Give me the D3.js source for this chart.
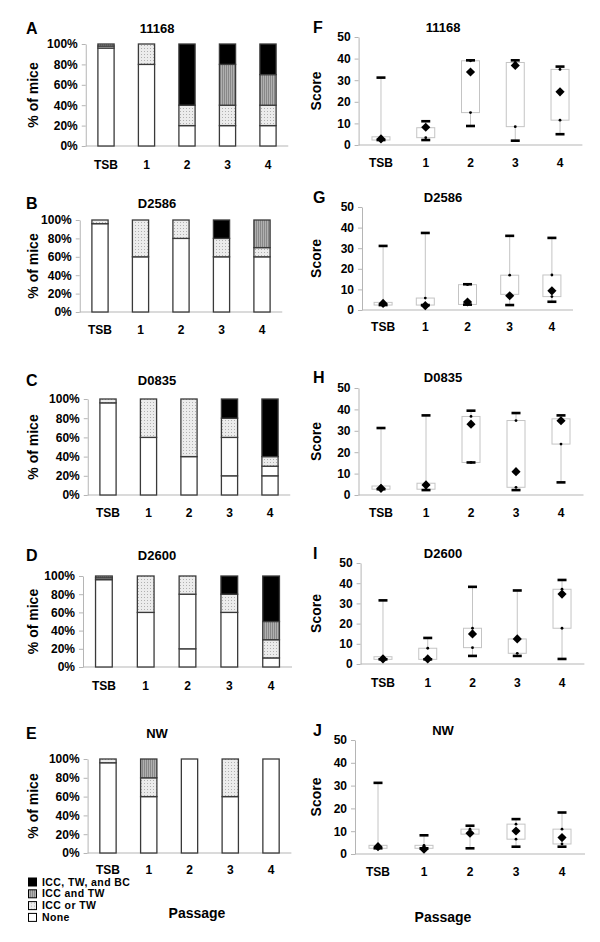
<!DOCTYPE html>
<html>
<head>
<meta charset="utf-8">
<script src="https://cdn.jsdelivr.net/npm/d3@7"></script>
<style>
  body { margin: 0; background: #fff; }
  text { font-family: "Liberation Sans", Arial, sans-serif; font-weight: bold; fill: #000; }
</style>
</head>
<body>
<div class="canvas"></div>
<script>
// categories on the x axis
const categories = ['TSB', '1', '2', '3', '4'];

// stack order, bottom to top (second white band has no legend entry)
const stackKeys = ['None', 'None b', 'ICC or TW', 'ICC and TW', 'ICC, TW, and BC'];
const legendKeys = ['ICC, TW, and BC', 'ICC and TW', 'ICC or TW', 'None'];

// % of mice, one row per passage, columns follow stackKeys
const pct11168 = [[96, 0, 2, 2, 0], [80, 0, 20, 0, 0], [20, 0, 20, 0, 60], [20, 0, 20, 40, 20], [20, 0, 20, 30, 30]];
const pctD2586 = [[96, 0, 4, 0, 0], [60, 0, 40, 0, 0], [80, 0, 20, 0, 0], [60, 0, 20, 0, 20], [60, 0, 10, 30, 0]];
const pctD0835 = [[96, 0, 4, 0, 0], [60, 0, 40, 0, 0], [40, 0, 60, 0, 0], [20, 40, 20, 0, 20], [20, 10, 10, 0, 60]];
const pctD2600 = [[96, 0, 2, 2, 0], [60, 0, 40, 0, 0], [20, 60, 20, 0, 0], [60, 0, 20, 0, 20], [10, 0, 20, 20, 50]];
const pctNW    = [[96, 0, 4, 0, 0], [60, 0, 20, 20, 0], [100, 0, 0, 0, 0], [60, 0, 40, 0, 0], [100, 0, 0, 0, 0]];

// score boxes: [min, q1, q3, max, mean]
const score11168 = [[2.3, 2.3, 3.8, 31.2, 2.8], [2.3, 3.4, 8, 11, 8.2], [8.8, 15, 39, 39.2, 33.8], [2, 8.5, 38.2, 39.2, 36.8], [5, 11.5, 35, 36.3, 24.6]];
const scoreD2586 = [[2.4, 2.4, 3.7, 31.1, 3.2], [2.4, 2.4, 5.8, 37.4, 2.1], [2.6, 2.7, 12.3, 12.5, 3.9], [2.4, 7.6, 16.9, 36, 6.9], [4, 6.5, 17, 35, 9.3]];
const scoreD0835 = [[2.7, 2.7, 4.2, 31.3, 3.1], [2.3, 2.7, 5.5, 37.2, 4.7], [15.2, 15.2, 36.7, 39.4, 33.1], [2.3, 3.6, 34.8, 38.3, 10.9], [5.9, 23.8, 35.6, 37.2, 34.7]];
const scoreD2600 = [[2.3, 2.3, 3.6, 31.5, 2.5], [2.3, 2.3, 7.8, 12.9, 2.5], [4, 8.1, 17.7, 38.2, 14.9], [4, 5.3, 12.4, 36.4, 12.4], [2.5, 17.7, 37, 41.6, 34.6]];
const scoreNW    = [[2.5, 2.5, 3.8, 31.2, 3.2], [2.5, 2.5, 3.8, 8.2, 2.1], [2.5, 8.7, 10.9, 12.4, 9.1], [3.2, 6.5, 13.1, 15.3, 10.1], [3.2, 4.4, 10.9, 18.2, 7.2]];

const strains = ['11168', 'D2586', 'D0835', 'D2600', 'NW'];
const pctTicks = [0, 20, 40, 60, 80, 100];
const scoreTicks = [0, 10, 20, 30, 40, 50];

// panel placement
const barPanels = [
  {letter: 'A', title: strains[0], data: pct11168, x0: 85.75, x1: 288.25, yTop: 44, yBot: 146, titleY: 28, tickY: 165},
  {letter: 'B', title: strains[1], data: pctD2586, x0: 79.75, x1: 282.25, yTop: 220, yBot: 312, titleY: 203, tickY: 330},
  {letter: 'C', title: strains[2], data: pctD0835, x0: 87.75, x1: 290.25, yTop: 399, yBot: 495, titleY: 380, tickY: 513},
  {letter: 'D', title: strains[3], data: pctD2600, x0: 83, x1: 292, yTop: 576, yBot: 667, titleY: 555, tickY: 686},
  {letter: 'E', title: strains[4], data: pctNW, x0: 87.6, x1: 291.4, yTop: 759, yBot: 853, titleY: 733, tickY: 870}
];
const boxPanels = [
  {letter: 'F', title: strains[0], data: score11168, x0: 358.6, x1: 582.4, yTop: 37, yBot: 145, titleY: 27, tickY: 163},
  {letter: 'G', title: strains[1], data: scoreD2586, x0: 362, x1: 573, yTop: 207, yBot: 310, titleY: 197, tickY: 327},
  {letter: 'H', title: strains[2], data: scoreD0835, x0: 358.5, x1: 583.5, yTop: 388, yBot: 495, titleY: 377, tickY: 513},
  {letter: 'I', title: strains[3], data: scoreD2600, x0: 360.6, x1: 584.4, yTop: 563, yBot: 664, titleY: 553, tickY: 683},
  {letter: 'J', title: strains[4], data: scoreNW, x0: 355, x1: 585, yTop: 740, yBot: 854, titleY: 730, tickY: 872}
];

const AXIS_COLOR = '#b5b5b5';
const BAR_STROKE = '#3a3a3a';

const svg = d3.select('.canvas')
  .append('svg')
    .attr('width', 600)
    .attr('height', 942);

// fill patterns
const defs = svg.append('defs');
const light = defs.append('pattern').attr('id', 'light')
  .attr('width', 3).attr('height', 3).attr('patternUnits', 'userSpaceOnUse');
light.append('rect').attr('width', 3).attr('height', 3).attr('fill', '#ececec');
light.append('rect').attr('width', 1).attr('height', 1).attr('fill', '#b0b0b0');
const mid = defs.append('pattern').attr('id', 'mid')
  .attr('width', 2).attr('height', 2).attr('patternUnits', 'userSpaceOnUse');
mid.append('rect').attr('width', 2).attr('height', 2).attr('fill', '#b0b0b0');
mid.append('rect').attr('width', 1).attr('height', 2).attr('fill', '#888');

const fills = {
  'None': '#fff',
  'None b': '#fff',
  'ICC or TW': 'url(#light)',
  'ICC and TW': 'url(#mid)',
  'ICC, TW, and BC': '#000'
};

const stack = d3.stack().keys(stackKeys);

function header(p, titleX, letterX) {
  svg.append('text')
    .attr('x', letterX).attr('y', p.titleY + 6)
    .attr('font-size', 16)
    .text(p.letter);
  svg.append('text')
    .attr('x', titleX).attr('y', p.titleY + 4.5)
    .attr('text-anchor', 'middle')
    .attr('font-size', 13)
    .text(p.title);
}

function xLabels(p, x) {
  svg.append('g').selectAll('text')
    .data(categories)
    .enter().append('text')
      .attr('x', d => x(d) + x.bandwidth() / 2)
      .attr('y', p.tickY)
      .attr('dy', '0.35em')
      .attr('text-anchor', 'middle')
      .attr('font-size', 12)
      .text(d => d);
}

function yAxis(p, y, fmt) {
  const g = svg.append('g')
    .attr('transform', `translate(${p.x0},0)`)
    .call(d3.axisLeft(y).tickValues(fmt.ticks).tickSize(4).tickSizeOuter(0).tickPadding(4).tickFormat(fmt.f));
  g.select('.domain').attr('stroke', AXIS_COLOR);
  g.selectAll('.tick line').attr('stroke', AXIS_COLOR);
  g.selectAll('.tick text')
    .attr('font-size', 12)
    .attr('font-family', '"Liberation Sans", Arial, sans-serif')
    .attr('font-weight', 'bold')
    .attr('fill', '#000');
  svg.append('line')
    .attr('x1', p.x0).attr('x2', p.x1)
    .attr('y1', p.yBot).attr('y2', p.yBot)
    .attr('stroke', AXIS_COLOR);
}

// stacked bar panels
barPanels.forEach(p => {
  const rows = p.data.map((r, i) => {
    const o = {cat: categories[i]};
    stackKeys.forEach((k, j) => o[k] = r[j]);
    return o;
  });
  const x = d3.scaleBand().domain(categories).range([p.x0, p.x1]).paddingInner(0.6).paddingOuter(0.3);
  const y = d3.scaleLinear().domain([0, 100]).range([p.yBot, p.yTop]);

  header(p, 157, 26);
  yAxis(p, y, {ticks: pctTicks, f: d => d + '%'});
  xLabels(p, x);

  svg.append('text')
    .attr('transform', `translate(33,${(p.yTop + p.yBot) / 2}) rotate(-90)`)
    .attr('dy', '0.35em')
    .attr('text-anchor', 'middle')
    .attr('font-size', 14)
    .text('% of mice');

  const layers = svg.append('g').selectAll('g')
    .data(stack(rows))
    .enter().append('g')
      .attr('fill', d => fills[d.key]);
  layers.selectAll('rect')
    .data(d => d.filter(s => s[1] > s[0]))
    .enter().append('rect')
      .attr('x', d => x(d.data.cat))
      .attr('y', d => y(d[1]))
      .attr('width', x.bandwidth())
      .attr('height', d => y(d[0]) - y(d[1]))
      .attr('stroke', BAR_STROKE)
      .attr('stroke-width', 1.3);
});

// box plot panels
boxPanels.forEach(p => {
  const x = d3.scaleBand().domain(categories).range([p.x0, p.x1]).paddingInner(0.6).paddingOuter(0.3);
  const y = d3.scaleLinear().domain([0, 50]).range([p.yBot, p.yTop]);
  const bw = 18;

  header(p, 443, 313);
  yAxis(p, y, {ticks: scoreTicks, f: d3.format('d')});
  xLabels(p, x);

  svg.append('text')
    .attr('transform', `translate(316,${(p.yTop + p.yBot) / 2}) rotate(-90)`)
    .attr('dy', '0.35em')
    .attr('text-anchor', 'middle')
    .attr('font-size', 14)
    .text('Score');

  const boxes = svg.append('g').selectAll('g')
    .data(p.data.map((d, i) => ({cat: categories[i], min: d[0], q1: d[1], q3: d[2], max: d[3], mean: d[4]})))
    .enter().append('g')
      .attr('transform', d => `translate(${x(d.cat) + x.bandwidth() / 2},0)`);

  boxes.append('line')
    .attr('y1', d => y(d.min)).attr('y2', d => y(d.max))
    .attr('stroke', '#c4c4c4');
  boxes.append('rect')
    .attr('x', -bw / 2).attr('width', bw)
    .attr('y', d => y(d.q3))
    .attr('height', d => y(d.q1) - y(d.q3))
    .attr('fill', '#fff')
    .attr('stroke', '#c4c4c4');
  boxes.selectAll('circle')
    .data(d => [d.q1, d.q3])
    .enter().append('circle')
      .attr('cy', v => y(v))
      .attr('r', 1.4)
      .attr('fill', '#000');
  boxes.selectAll('.cap')
    .data(d => [d.min, d.max])
    .enter().append('rect')
      .attr('class', 'cap')
      .attr('x', -4.5).attr('width', 9)
      .attr('y', v => y(v) - 1.3).attr('height', 2.6)
      .attr('fill', '#000');
  boxes.append('path')
    .attr('d', d3.symbol(d3.symbolSquare, 42))
    .attr('transform', d => `translate(0,${y(d.mean)}) rotate(45)`)
    .attr('fill', '#000');
});

// legend
const legend = svg.append('g').selectAll('g')
  .data(legendKeys)
  .enter().append('g')
    .attr('transform', (d, i) => `translate(28,${882 + i * 11.8})`);
legend.append('rect')
  .attr('x', 0.5).attr('y', -4)
  .attr('width', 8).attr('height', 8)
  .attr('fill', d => fills[d])
  .attr('stroke', '#000');
legend.append('text')
  .attr('x', 14).attr('dy', '0.35em')
  .attr('font-size', 10.5)
  .attr('letter-spacing', 0.4)
  .text(d => d);

// x axis titles
svg.append('text')
  .attr('x', 197).attr('y', 913).attr('dy', '0.35em')
  .attr('text-anchor', 'middle').attr('font-size', 14)
  .text('Passage');
svg.append('text')
  .attr('x', 443).attr('y', 917).attr('dy', '0.35em')
  .attr('text-anchor', 'middle').attr('font-size', 14)
  .text('Passage');
</script>
</body>
</html>
